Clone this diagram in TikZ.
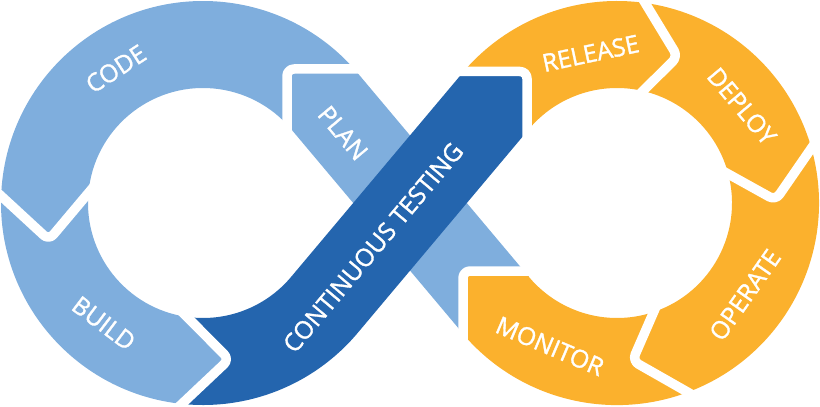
\documentclass[tikz,border=0pt]{standalone}
\usepackage{fontspec}
\newfontfamily\loopfont{Open Sans}[FakeBold=1.3]
\usetikzlibrary{calc}
\definecolor{planblue}{HTML}{7FAEDD}
\definecolor{testblue}{HTML}{2465AE}
\definecolor{opsorange}{HTML}{FBB12D}

\begin{document}
\begin{tikzpicture}[x=0.02cm,y=0.02cm,
		stage/.style={text=white,font=\loopfont\fontsize{14}{16}\selectfont,inner sep=0pt},
		gap/.style={draw=white,line width=0.19cm,line join=round,rounded corners=0.14cm}]
		\useasboundingbox (0,0) rectangle (820,406);
		% left loop: code, build, plan
		\begin{scope}[shift={(203,203)}]
		\fill[planblue] (40:202) arc[start angle=40,end angle=178,radius=202] -- (193.5:158.5) -- (175:115) arc[start angle=175,end angle=40,radius=115] -- cycle;
		\fill[planblue] (178:202) arc[start angle=178,end angle=264,radius=202] -- (279.5:158.5) -- (262:115) arc[start angle=262,end angle=175,radius=115] -- (193.5:158.5) -- cycle;
		\fill[planblue] (84,134) -- (151.2,134) -- (325.9,-73.9) -- (259.3,-129.8) -- (84,78.8) -- cycle;
		\end{scope}
		% right loop: release, deploy, operate, monitor
		\begin{scope}[shift={(617,203)}]
		\fill[opsorange] (140:202) arc[start angle=140,end angle=82,radius=202] -- (67.5:158.5) -- (77:115) arc[start angle=77,end angle=140,radius=115] -- cycle;
		\fill[opsorange] (82:202) arc[start angle=82,end angle=15.75,radius=202] -- (1:158.5) -- (14.6:115) arc[start angle=14.6,end angle=77,radius=115] -- (67.5:158.5) -- cycle;
		\fill[opsorange] (15.75:202) arc[start angle=15.75,end angle=-69.5,radius=202] -- (-84.4:158.5) -- (-71.4:115) arc[start angle=-71.4,end angle=14.6,radius=115] -- (1:158.5) -- cycle;
		\fill[opsorange] (-93.3,-68) -- (-154,-68) -- (-154,-130.9) arc[start angle=220.36,end angle=290.5,radius=202] -- (-84.4:158.5) -- (-71.4:115) arc[start angle=288.6,end angle=216.08,radius=115] -- cycle;
		\end{scope}
		% testing band
		\begin{scope}[shift={(203,203)}]
		\fill[testblue] (264:202) arc[start angle=264,end angle=320,radius=202] -- (324,71.6) -- (324,131.5) -- (260.7,131.5) -- (320:115) arc[start angle=320,end angle=262,radius=115] -- (279.5:158.5) -- cycle;
		\draw[gap] ($(193.5:158.5)!1.4!(178:202)$) -- (193.5:158.5) -- ($(193.5:158.5)!1.4!(175:115)$);
		\draw[gap] ($(279.5:158.5)!1.4!(264:202)$) -- (279.5:158.5) -- ($(279.5:158.5)!1.4!(262:115)$);
		\draw[gap] (165,134) -- (84,134) -- (84,68);
		\node (code) at (123:160) [stage,rotate=33] {CODE};
		\node (build) at (230.5:156) [stage,rotate=-37] {BUILD};
		\node (plan) at (140,70) [stage,rotate=-50] {PLAN};
		\node (testing) at (170,-44.5) [stage,rotate=50] {CONTINUOUS TESTING};
		\end{scope}
		\begin{scope}[shift={(617,203)}]
		\draw[gap] ($(67.5:158.5)!1.4!(82:202)$) -- (67.5:158.5) -- ($(67.5:158.5)!1.4!(77:115)$);
		\draw[gap] ($(1:158.5)!1.4!(15.75:202)$) -- (1:158.5) -- ($(1:158.5)!1.4!(14.6:115)$);
		\draw[gap] ($(-84.4:158.5)!1.4!(-69.5:202)$) -- (-84.4:158.5) -- ($(-84.4:158.5)!1.4!(-71.4:115)$);
		\draw[gap] (-85,-68) -- (-154,-68) -- (-154,-140);
		\draw[gap] (-165,131.5) -- (-90,131.5) -- (-90,60);
		\node (release) at (100:152) [stage,rotate=12] {RELEASE};
		\node (deploy) at (37.8:158) [stage,rotate=-50] {DEPLOY};
		\node (operate) at (-35.7:157.6) [stage,rotate=55] {OPERATE};
		\node (monitor) at (244.9:158) [stage,rotate=-23] {MONITOR};
		\end{scope}
\end{tikzpicture}
\end{document}
